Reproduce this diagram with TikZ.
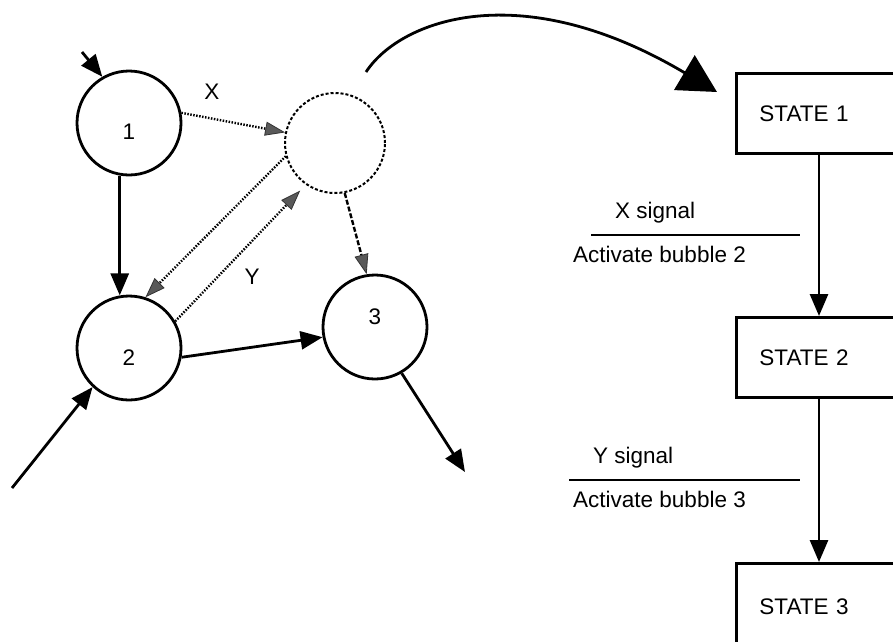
\documentclass[tikz,border=0pt]{standalone}
\usepackage{fontspec}
\setmainfont{Liberation Sans}
\usetikzlibrary{arrows.meta, positioning, calc}
\tikzset{
	bubble/.style  ={circle, draw=black, line width=2.8pt, minimum size=104pt, inner sep=0pt},
	ghost/.style   ={circle, draw=black, line width=2pt, dash pattern=on 3pt off 2pt, minimum size=100pt, inner sep=0pt},
	statebox/.style={rectangle, draw=black, line width=2.8pt, anchor=north west, minimum height=80pt, text width=200pt, inner xsep=23pt, align=left},
	note/.style    ={anchor=west, inner sep=0pt},
	flow/.style    ={-{Triangle[length=22pt, width=18pt]}, line width=2.8pt},
	ctrl/.style    ={-{Triangle[length=20pt, width=14pt, fill=black!65, color=black!80, line width=0.8pt]}, line width=2.4pt, dash pattern=on 1.5pt off 1.5pt},
	rule/.style    ={line width=2.2pt},
}

\begin{document}
\begin{tikzpicture}[x=1pt, y=-1pt, every node/.style={font=\fontsize{22.5}{26}\selectfont}]
	\clip (0,0) rectangle (893,641);
	% bubbles
	\node[bubble, label={[yshift=-9pt]center:1}] (n1) at (129,123) {};
	\node[ghost] (nx) at (335,143) {};
	\node[bubble, label={[yshift=-10pt]center:2}] (n2) at (129,348) {};
	\node[bubble, label={[yshift=10pt]center:3}] (n3) at (375,327) {};
	\node (lx) at (212,92) {X};
	\node (ly) at (252,277) {Y};
	\coordinate (in1) at (82,52);
	\coordinate (in2) at (12,488);
	\coordinate (out3) at (465,472);
	\draw[flow] (in1) -- (n1.120);
	\draw[flow] (n1.260) -- (n2.100);
	\draw[flow] (in2) -- (n2.227);
	\draw[flow] (n2.-10) -- (n3.191);
	\draw[flow] (n3.300) -- (out3);
	\draw[ctrl] (n1.11) -- (nx.168);
	\draw[ctrl] (nx.195) -- (n2.72);
	\draw[ctrl, shorten >=8pt] (n2.30) -- (nx.235);
	\draw[ctrl, dash pattern=on 5pt off 2pt] (nx.281) -- (n3.99);
	% zoom arrow
	\coordinate (zs) at (366,72);
	\coordinate (ze) at (717,92);
	\draw[line width=2.8pt, -{Triangle[length=38pt, width=40pt]}] (zs) .. controls (400,20) and (520,-25) .. (ze);
	% state chart
	\node[statebox] (s1) at (735,72) {STATE 1};
	\node[statebox] (s2) at (735,316) {STATE 2};
	\node[statebox, minimum height=86pt] (s3) at (735,562) {STATE 3};
	\coordinate (sx) at (819,0);
	\draw[flow] (s1.south -| sx) -- (s2.north -| sx);
	\draw[flow] (s2.south -| sx) -- (s3.north -| sx);
	\node[note] (tx) at (615,213) {X signal};
	\draw[rule] (591,235) -- (800,235);
	\node[note] (ax) at (573,254) {Activate bubble 2};
	\node[note] (ty) at (593,458) {Y signal};
	\draw[rule] (569,480) -- (800,480);
	\node[note] (ay) at (573,499) {Activate bubble 3};
\end{tikzpicture}
\end{document}
